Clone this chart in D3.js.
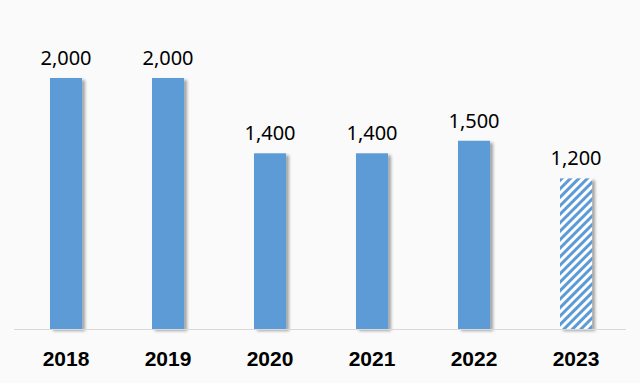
<!DOCTYPE html>
<html><head><meta charset="utf-8">
<script src="https://cdn.jsdelivr.net/npm/d3@7"></script>
<style>html,body{margin:0;padding:0;background:#fafafa;}svg{display:block;}</style>
</head><body>
<script>
const categories = ["2018","2019","2020","2021","2022","2023"];
const values = [2000, 2000, 1400, 1400, 1500, 1200];
const forecast = [false, false, false, false, false, true];

const W = 640, H = 383;
const svg = d3.select("body").append("svg").attr("width", W).attr("height", H);
svg.append("rect").attr("width", W).attr("height", H).attr("fill", "#fafafa");

const defs = svg.append("defs");
const f = defs.append("filter").attr("id","shadow").attr("x","-20%").attr("y","-10%").attr("width","160%").attr("height","130%");
f.append("feDropShadow").attr("dx",3).attr("dy",2).attr("stdDeviation",1.6).attr("flood-color","#000").attr("flood-opacity",0.35);

const pat = defs.append("pattern").attr("id","hatch").attr("patternUnits","userSpaceOnUse")
  .attr("width",6).attr("height",6).attr("patternTransform","rotate(45)");
pat.append("rect").attr("width",6).attr("height",6).attr("fill","#ffffff");
pat.append("rect").attr("x",0).attr("y",0).attr("width",3).attr("height",6).attr("fill","#5b9bd5");

const x = d3.scaleBand().domain(categories).range([15, 627]).paddingInner(0.686).paddingOuter(0.343);
const y = d3.scaleLinear().domain([0, 2000]).range([329, 78]);

const data = categories.map((c,i)=>({c, v: values[i], f: forecast[i]}));

svg.selectAll("rect.bar").data(data).enter().append("rect")
  .attr("class","bar")
  .attr("x", d=>x(d.c)).attr("y", d=>y(d.v))
  .attr("width", x.bandwidth()).attr("height", d=>y(0)-y(d.v))
  .attr("fill", d=> d.f ? "url(#hatch)" : "#5b9bd5")
  .attr("filter","url(#shadow)");

svg.append("line").attr("x1",14).attr("x2",626).attr("y1",329.5).attr("y2",329.5)
  .attr("stroke","#d9d9d9").attr("stroke-width",1);

svg.selectAll("text.val").data(data).enter().append("text")
  .attr("class","val")
  .attr("x", d=>x(d.c)+x.bandwidth()/2).attr("y", d=>y(d.v)-13)
  .attr("text-anchor","middle")
  .attr("font-family","'Noto Sans', 'Liberation Sans', sans-serif")
  .attr("font-size", 20).attr("fill","#000")
  .text(d=>d3.format(",")(d.v));

const xAxis = d3.axisBottom(x).tickSize(0).tickPadding(0);
const gx = svg.append("g").attr("transform","translate(0,329)").call(xAxis);
gx.select(".domain").remove();
gx.selectAll("text").attr("dy",null).attr("y",37)
  .attr("font-family","'Liberation Sans', sans-serif").attr("font-weight","bold")
  .attr("font-size",21).attr("fill","#000");
</script>
</body></html>
